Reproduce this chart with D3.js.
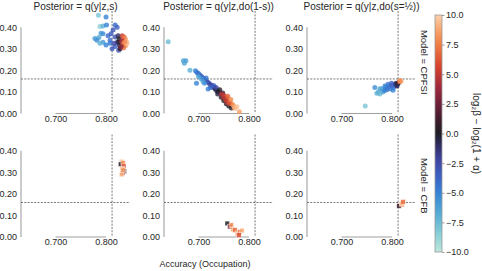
<!DOCTYPE html>
<html>
<head>
<meta charset="utf-8">
<script src="https://cdn.jsdelivr.net/npm/d3@7"></script>
<style>
  body { margin: 0; background: #fff; }
  text { font-family: "Liberation Sans", Arial, sans-serif; fill: #262626; }
</style>
</head>
<body>
<svg id="chart" width="482" height="271"></svg>
<script>
// titles / facets
const posteriors = ['Posterior = q(y|z,s)', 'Posterior = q(y|z,do(1-s))', 'Posterior = q(y|z,do(s=\u00bd))'];
const models = ['CPFSI', 'CFB'];
const xTicks = [0.7, 0.8];
const yTicks = [0, 0.1, 0.2, 0.3, 0.4];
const cTicks = [-10, -7.5, -5, -2.5, 0, 2.5, 5, 7.5, 10];
const accRef = 0.812;
const gapRef = 0.16;

// points: [accuracy, y value, log2 beta - log2(1+alpha)]
const cpfsiS = [
  [0.785, 0.455, -8], [0.800, 0.447, -5], [0.788, 0.403, -8.5], [0.794, 0.406, -7],
  [0.801, 0.410, -5], [0.818, 0.410, -4], [0.814, 0.387, -3], [0.822, 0.400, -3.5],
  [0.790, 0.372, -6], [0.794, 0.370, -5.5], [0.778, 0.348, -6], [0.786, 0.352, -6.5],
  [0.782, 0.340, -5.5], [0.808, 0.340, -4], [0.818, 0.355, -3], [0.808, 0.325, -4.5],
  [0.794, 0.330, -6], [0.788, 0.325, -7], [0.825, 0.293, -3], [0.818, 0.310, -3.5],
  [0.800, 0.317, -5], [0.812, 0.300, -3], [0.804, 0.360, -4], [0.810, 0.370, -3.5],
  [0.816, 0.325, -2.5], [0.822, 0.330, -2],
  [0.824, 0.360, -1], [0.826, 0.345, 0], [0.825, 0.330, 0.5], [0.827, 0.315, -0.5], [0.828, 0.300, 1],
  [0.832, 0.360, 5], [0.836, 0.355, 7], [0.838, 0.345, 8], [0.834, 0.340, 6], [0.831, 0.335, 4],
  [0.840, 0.335, 9], [0.836, 0.325, 7.5], [0.833, 0.318, 6.5], [0.839, 0.315, 8.5],
  [0.835, 0.305, 7], [0.830, 0.310, 3], [0.842, 0.325, 9.5], [0.837, 0.330, 8]
];
const cpfsiFlip = [
  [0.640, 0.332, -7.5], [0.670, 0.244, -6.5], [0.675, 0.244, -6], [0.672, 0.233, -6.5],
  [0.683, 0.200, -7], [0.694, 0.198, -5], [0.697, 0.190, -4.5], [0.700, 0.185, -4],
  [0.703, 0.178, -4.5], [0.706, 0.172, -3.5], [0.709, 0.165, -4], [0.712, 0.158, -3],
  [0.715, 0.152, -3.5], [0.718, 0.146, -2.5], [0.721, 0.140, -3], [0.724, 0.133, -2],
  [0.727, 0.127, -2.5], [0.730, 0.120, -1.5], [0.733, 0.113, -1], [0.736, 0.106, -0.5],
  [0.739, 0.100, 0],
  [0.696, 0.140, -5], [0.709, 0.147, -7], [0.706, 0.160, -6], [0.700, 0.170, -6.5],
  [0.719, 0.113, -5], [0.712, 0.140, -5.5], [0.724, 0.120, -4], [0.715, 0.165, -4.5],
  [0.730, 0.130, -3.5], [0.735, 0.120, -2.5],
  [0.742, 0.110, 0], [0.738, 0.090, -0.5], [0.745, 0.075, 0.5], [0.750, 0.060, 0],
  [0.755, 0.045, 1], [0.760, 0.035, 0], [0.765, 0.025, 0.5], [0.748, 0.095, 1],
  [0.745, 0.090, 4], [0.750, 0.085, 5], [0.753, 0.075, 6], [0.756, 0.070, 7],
  [0.759, 0.062, 7], [0.762, 0.055, 8], [0.765, 0.045, 7.5], [0.768, 0.040, 8],
  [0.755, 0.058, 5], [0.760, 0.048, 6], [0.750, 0.072, 4.5], [0.771, 0.030, 8.5],
  [0.772, 0.024, 9], [0.776, 0.031, 9.5], [0.781, 0.008, 8.5], [0.758, 0.080, 6.5],
  [0.764, 0.065, 8]
];
const cpfsiHalf = [
  [0.747, 0.035, -8], [0.766, 0.120, -5.5], [0.773, 0.100, -7], [0.776, 0.090, -7.5],
  [0.770, 0.094, -7], [0.782, 0.100, -6.5], [0.780, 0.115, -6], [0.785, 0.107, -5],
  [0.788, 0.120, -5], [0.790, 0.110, -4.5], [0.794, 0.125, -4], [0.797, 0.115, -4.5],
  [0.800, 0.130, -3.5], [0.803, 0.120, -4], [0.806, 0.135, -3], [0.809, 0.130, -2],
  [0.786, 0.128, -5], [0.792, 0.135, -4.5], [0.799, 0.140, -3.5], [0.802, 0.108, -5],
  [0.776, 0.115, -6.5], [0.808, 0.140, -1], [0.811, 0.137, 0], [0.813, 0.143, 0.5],
  [0.810, 0.128, -1], [0.815, 0.147, 7], [0.818, 0.150, 9], [0.816, 0.153, 8]
];
const cfbS = [
  [0.831, 0.349, 9], [0.829, 0.337, 0], [0.834, 0.343, 8], [0.835, 0.328, 6],
  [0.832, 0.316, 9], [0.836, 0.305, 1], [0.833, 0.297, 5], [0.831, 0.290, 9], [0.834, 0.310, 8.5]
];
const cfbFlip = [
  [0.757, 0.063, 0], [0.762, 0.048, 3], [0.765, 0.055, 8], [0.768, 0.036, 9],
  [0.772, 0.032, 7], [0.777, 0.017, 9], [0.782, 0.025, 7], [0.786, 0.030, 9], [0.780, 0.009, 6]
];
const cfbHalf = [
  [0.814, 0.144, 1], [0.820, 0.150, 8], [0.819, 0.156, 9], [0.822, 0.163, 7]
];
const panels = [[cpfsiS, cpfsiFlip, cpfsiHalf], [cfbS, cfbFlip, cfbHalf]];

// seaborn icefire, approximated
const icefire = ['#bde7db', '#86cdd6', '#56acd5', '#3583d6', '#3b60c4', '#3f44a0', '#302c62', '#1e1d23',
                 '#3a1c2a', '#6e1f39', '#a22a3c', '#d6422d', '#f07d43', '#f8a66f', '#fcd2ae'];
const icePos = [0, 0.08, 0.16, 0.25, 0.32, 0.39, 0.45, 0.5, 0.55, 0.625, 0.7, 0.78, 0.875, 0.94, 1];

const svg = d3.select('#chart');
const cNorm = d3.scaleLinear().domain([-10, 10]).range([0, 1]).clamp(true);
const cmap = d3.scaleLinear().domain(icePos).range(icefire);
const color = v => cmap(cNorm(v));

const panelW = 109, panelH = 102.5;
const lefts = [21, 164, 307];
const tops = [11, 134.5];

const x = d3.scaleLinear().domain([0.6317, 0.8475]).range([0, panelW]);
const y = d3.scaleLinear().domain([0, 0.475]).range([panelH, 0]);

models.forEach((model, r) => {
  posteriors.forEach((title, c) => {
    const g = svg.append('g').attr('transform', `translate(${lefts[c]},${tops[r]})`);

    // trimmed spines
    g.append('line').attr('x1', 0).attr('x2', 0).attr('y1', y(0)).attr('y2', y(0.4))
      .attr('stroke', '#a0a0a0').attr('stroke-width', 1.1);
    g.append('line').attr('x1', x(0.7)).attr('x2', x(0.8)).attr('y1', y(0)).attr('y2', y(0))
      .attr('stroke', '#a0a0a0').attr('stroke-width', 1.1);

    const ya = g.append('g').call(d3.axisLeft(y).tickValues(yTicks).tickSize(0).tickPadding(4).tickFormat(d3.format('.2f')));
    const xa = g.append('g').attr('transform', `translate(0,${panelH})`)
      .call(d3.axisBottom(x).tickValues(xTicks).tickSize(0).tickPadding(2).tickFormat(d3.format('.3f')));
    [ya, xa].forEach(a => {
      a.select('.domain').remove();
      a.selectAll('text').attr('font-size', 9).attr('fill', '#333').attr('font-family', '"Liberation Sans", Arial, sans-serif');
    });

    // reference lines
    g.append('line').attr('x1', 0).attr('x2', panelW).attr('y1', y(gapRef)).attr('y2', y(gapRef))
      .attr('stroke', '#555').attr('stroke-width', 0.8).attr('stroke-dasharray', '2,1.3');
    g.append('line').attr('x1', x(accRef)).attr('x2', x(accRef)).attr('y1', 0).attr('y2', panelH)
      .attr('stroke', '#555').attr('stroke-width', 0.8).attr('stroke-dasharray', '2,1.3');

    const pts = panels[r][c];
    if (r === 0) {
      g.selectAll('circle').data(pts).enter().append('circle')
        .attr('cx', d => x(d[0])).attr('cy', d => y(d[1])).attr('r', 2.5)
        .attr('fill', d => color(d[2])).attr('fill-opacity', 0.8);
    } else {
      g.selectAll('rect.pt').data(pts).enter().append('rect').attr('class', 'pt')
        .attr('x', d => x(d[0]) - 2.3).attr('y', d => y(d[1]) - 2.3)
        .attr('width', 4.6).attr('height', 4.6)
        .attr('fill', d => color(d[2])).attr('fill-opacity', 0.85)
        .attr('stroke', '#fff').attr('stroke-width', 0.4);
    }

    if (r === 0) {
      svg.append('text').attr('x', lefts[c] + panelW / 2).attr('y', 10.3)
        .attr('text-anchor', 'middle').attr('font-size', 10).text(title);
    }
    if (c === 2) {
      svg.append('text')
        .attr('transform', `translate(424,${tops[r] + panelH / 2}) rotate(90)`)
        .attr('text-anchor', 'middle').attr('dy', '0.35em').attr('font-size', 9.5)
        .text('Model = ' + model);
    }
  });
});

svg.append('text').attr('x', 205).attr('y', 266.5).attr('text-anchor', 'middle')
  .attr('font-size', 9).text('Accuracy (Occupation)');

// colorbar
const cbX = 435, cbW = 7, cbTop = 15, cbBot = 252;
const cy = d3.scaleLinear().domain([-10, 10]).range([cbBot, cbTop]);
const grad = svg.append('defs').append('linearGradient').attr('id', 'cbgrad')
  .attr('x1', '0%').attr('y1', '100%').attr('x2', '0%').attr('y2', '0%');
d3.range(0, 1.0001, 0.02).forEach(t => {
  grad.append('stop').attr('offset', (t * 100) + '%').attr('stop-color', cmap(t));
});
svg.append('rect').attr('x', cbX).attr('y', cbTop).attr('width', cbW).attr('height', cbBot - cbTop)
  .attr('fill', 'url(#cbgrad)').attr('stroke', '#999').attr('stroke-width', 0.8);
const ca = svg.append('g').attr('transform', `translate(${cbX + cbW},0)`)
  .call(d3.axisRight(cy).tickValues(cTicks).tickSize(2.5).tickPadding(1.5).tickFormat(d3.format('.1f')));
ca.select('.domain').remove();
ca.selectAll('line').attr('stroke', '#777').attr('stroke-width', 0.7);
ca.selectAll('text').attr('font-size', 9).attr('fill', '#333').attr('font-family', '"Liberation Sans", Arial, sans-serif');

svg.append('text')
  .attr('transform', `translate(476,${(cbTop + cbBot) / 2}) rotate(90)`)
  .attr('text-anchor', 'middle').attr('dy', '0.35em').attr('font-size', 10)
  .text('log\u2082\u03b2 \u2212 log\u2082(1 + \u03b1)');
</script>
</body>
</html>
